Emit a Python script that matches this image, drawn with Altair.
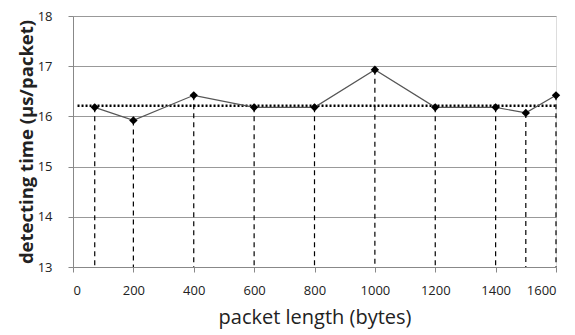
import altair as alt
import pandas as pd

lengths = [72, 200, 400, 600, 800, 1000, 1200, 1400, 1500, 1600]
times = [16.18, 15.92, 16.42, 16.18, 16.18, 16.93, 16.18, 16.18, 16.07, 16.42]
avg_x = [15, 1605]
avg_y = [16.21, 16.21]
y_floor = 13

df = pd.DataFrame({"len": lengths, "t": times, "base": [y_floor] * len(lengths)})
avg = pd.DataFrame({"x": avg_x, "y": avg_y})

FONT = "Open Sans"
xs = alt.Scale(domain=[0, 1600], nice=False)
ys = alt.Scale(domain=[13, 18], nice=False)

xaxis = alt.Axis(values=[0, 200, 400, 600, 800, 1000, 1200, 1400, 1600], grid=False, format="d",
                 title="packet length (bytes)", titleFontSize=20, titleFontWeight="normal",
                 titleFont=FONT, titleColor="#222", labelFont=FONT, labelFontSize=13,
                 labelColor="#222", tickColor="#888", domainColor="#888", tickSize=5,
                 labelPadding=12, titlePadding=10)
yaxis = alt.Axis(values=[13, 14, 15, 16, 17, 18], grid=True, gridColor="#999",
                 title="detecting time (µs/packet)", titleFontSize=18.5, titleFontWeight="bold",
                 titleFont=FONT, titleColor="#222", labelFont=FONT, labelFontSize=13,
                 labelColor="#222", tickColor="#888", domainColor="#888", tickSize=5,
                 labelPadding=16, titlePadding=1)

drops = alt.Chart(df).mark_rule(color="black", strokeDash=[5, 4], strokeWidth=1.2).encode(
    x=alt.X("len:Q", scale=xs, axis=xaxis),
    y=alt.Y("t:Q", scale=ys, axis=yaxis),
    y2="base:Q",
)

avgline = alt.Chart(avg).mark_line(color="black", strokeDash=[2, 2], strokeWidth=2.5).encode(
    x=alt.X("x:Q", scale=xs), y=alt.Y("y:Q", scale=ys)
)

line = alt.Chart(df).mark_line(color="#555", strokeWidth=1.2).encode(
    x=alt.X("len:Q", scale=xs), y=alt.Y("t:Q", scale=ys)
)

pts = alt.Chart(df).mark_point(shape="diamond", filled=True, color="black", size=70, opacity=1).encode(
    x=alt.X("len:Q", scale=xs), y=alt.Y("t:Q", scale=ys)
)

chart = alt.layer(drops, avgline, line, pts).properties(
    width=483, height=251,
    autosize=alt.AutoSizeParams(type="none"),
    padding={"left": 65, "top": 8, "right": 10, "bottom": 66},
).configure_view(stroke=None).configure(background="white")

chart.save("out.html", embed_options={"renderer": "svg", "actions": False})
